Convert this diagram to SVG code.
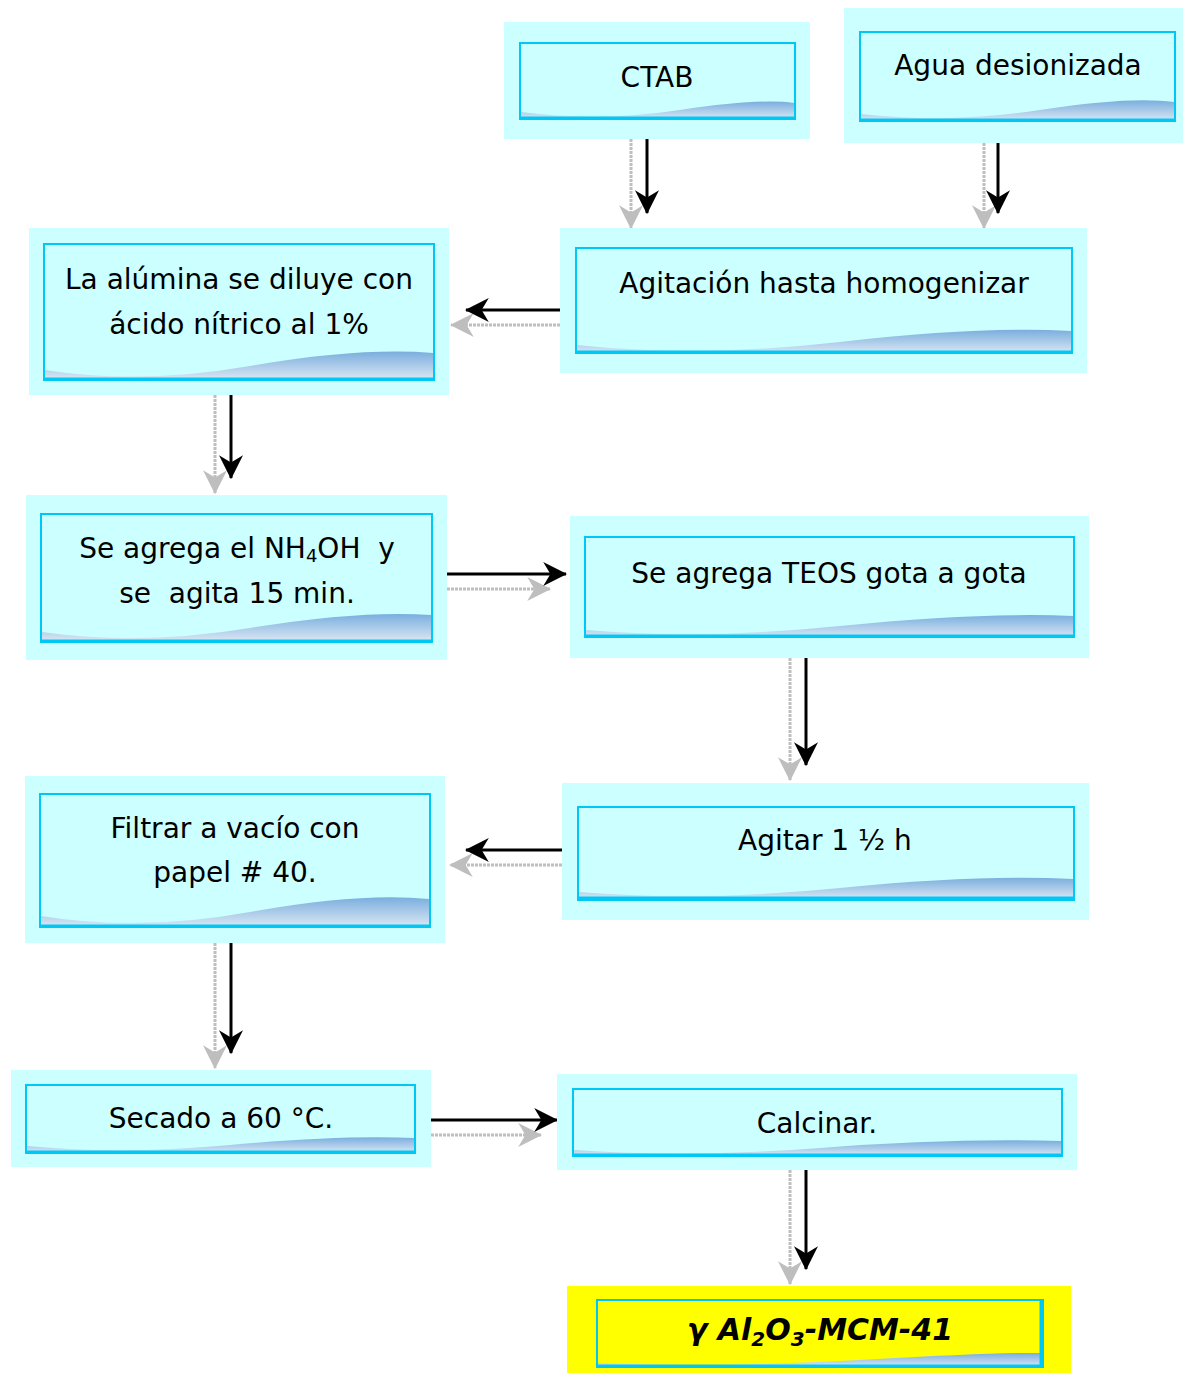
<svg xmlns="http://www.w3.org/2000/svg" width="1183" height="1374" viewBox="0 0 1183 1374">
<defs>
<linearGradient id="wg" x1="0" y1="0" x2="0" y2="1">
<stop offset="0" stop-color="#7AAEDE"/>
<stop offset="1" stop-color="#D6E4F2"/>
</linearGradient>
<marker id="hb" viewBox="0 0 20 20" refX="19" refY="10" markerWidth="24" markerHeight="24" markerUnits="userSpaceOnUse" orient="auto">
<path d="M0,0 L20,10 L0,20 L6,10 Z" fill="#000"/>
</marker>
<marker id="hg" viewBox="0 0 20 20" refX="19" refY="10" markerWidth="24" markerHeight="24" markerUnits="userSpaceOnUse" orient="auto">
<path d="M0,0 L20,10 L0,20 L6,10 Z" fill="#BEBEBE"/>
</marker>
</defs>
<style>
.outer{fill:#CCFFFF}
.outerY{fill:#FFFF00}
.inner{fill:#CCFFFF;stroke:#00C8F5;stroke-width:2}
.innerY{fill:#FFFF00;stroke:#00C8F5;stroke-width:2}
.bot{stroke:#00C8F5;stroke-width:3}
.wave{fill:url(#wg)}
.t{font-family:"DejaVu Sans","Liberation Sans",sans-serif;font-size:28px;fill:#000;text-anchor:middle;white-space:pre}
.tf{font-family:"DejaVu Sans","Liberation Sans",sans-serif;font-size:30px;font-weight:bold;font-style:italic;fill:#000;text-anchor:middle}
.ab{stroke:#000;stroke-width:3;fill:none;marker-end:url(#hb)}
.ag{stroke:#BEBEBE;stroke-width:3;fill:none;stroke-dasharray:3 1;marker-end:url(#hg)}
</style>

<g id="connectors">
<line class="ag" x1="631" y1="139" x2="631" y2="228"/>
<line class="ab" x1="647" y1="139" x2="647" y2="213"/>
<line class="ag" x1="984" y1="143" x2="984" y2="228"/>
<line class="ab" x1="998" y1="143" x2="998" y2="213"/>
<line class="ag" x1="560" y1="325" x2="451" y2="325"/>
<line class="ab" x1="560" y1="310" x2="466" y2="310"/>
<line class="ag" x1="215" y1="395" x2="215" y2="493"/>
<line class="ab" x1="231" y1="395" x2="231" y2="478"/>
<line class="ag" x1="447" y1="589" x2="550" y2="589"/>
<line class="ab" x1="447" y1="574" x2="566" y2="574"/>
<line class="ag" x1="790" y1="658" x2="790" y2="780"/>
<line class="ab" x1="806" y1="658" x2="806" y2="765"/>
<line class="ag" x1="562" y1="865" x2="450" y2="865"/>
<line class="ab" x1="562" y1="850" x2="466" y2="850"/>
<line class="ag" x1="215" y1="943" x2="215" y2="1068"/>
<line class="ab" x1="231" y1="943" x2="231" y2="1053"/>
<line class="ag" x1="431" y1="1135" x2="541" y2="1135"/>
<line class="ab" x1="431" y1="1120" x2="557" y2="1120"/>
<line class="ag" x1="790" y1="1170" x2="790" y2="1284"/>
<line class="ab" x1="806" y1="1170" x2="806" y2="1269"/>
</g>

<g id="n-ctab">
<rect class="outer" x="504" y="22" width="306" height="117"/>
<rect class="inner" x="520" y="43" width="275" height="76"/>
<path class="wave" d="M521,112 Q600,122 680,110 T794,103 L794,118 L521,118 Z"/>
<line class="bot" x1="520" y1="118" x2="795" y2="118"/>
<text class="t" x="657" y="87">CTAB</text>
</g>

<g id="n-agua">
<rect class="outer" x="844" y="8" width="339" height="135"/>
<rect class="inner" x="860" y="32" width="315" height="89"/>
<path class="wave" d="M861,114 Q950,124 1040,110 T1174,102 L1174,120 L861,120 Z"/>
<line class="bot" x1="860" y1="120" x2="1175" y2="120"/>
<text class="t" x="1018" y="75">Agua desionizada</text>
</g>

<g id="n-agitacion">
<rect class="outer" x="560" y="228" width="527" height="145"/>
<rect class="inner" x="576" y="248" width="496" height="105"/>
<path class="wave" d="M577,345 Q700,358 840,342 T1071,331 L1071,352 L577,352 Z"/>
<line class="bot" x1="576" y1="352" x2="1072" y2="352"/>
<text class="t" x="824" y="293">Agitación hasta homogenizar</text>
</g>

<g id="n-alumina">
<rect class="outer" x="29" y="228" width="420" height="167"/>
<rect class="inner" x="44" y="244" width="390" height="136"/>
<path class="wave" d="M45,370 Q140,385 250,366 T433,353 L433,378 L45,378 Z"/>
<line class="bot" x1="44" y1="379" x2="434" y2="379"/>
<text class="t" x="239" y="289">La alúmina se diluye con</text>
<text class="t" x="239" y="334">ácido nítrico al 1%</text>
</g>

<g id="n-nh4oh">
<rect class="outer" x="26" y="495" width="421" height="165"/>
<rect class="inner" x="41" y="514" width="391" height="128"/>
<path class="wave" d="M42,632 Q140,646 250,628 T431,615 L431,640 L42,640 Z"/>
<line class="bot" x1="41" y1="641" x2="432" y2="641"/>
<text class="t" x="237" y="558">Se agrega el NH<tspan font-size="18" dy="4">4</tspan><tspan dy="-4">OH  y</tspan></text>
<text class="t" x="237" y="603">se  agita 15 min.</text>
</g>

<g id="n-teos">
<rect class="outer" x="570" y="516" width="519" height="142"/>
<rect class="inner" x="585" y="537" width="489" height="100"/>
<path class="wave" d="M586,630 Q700,640 840,626 T1073,616 L1073,636 L586,636 Z"/>
<line class="bot" x1="585" y1="636" x2="1074" y2="636"/>
<text class="t" x="829" y="583">Se agrega TEOS gota a gota</text>
</g>

<g id="n-agitar">
<rect class="outer" x="562" y="783" width="527" height="137"/>
<rect class="inner" x="578" y="807" width="496" height="93"/>
<path class="wave" d="M579,892 Q700,902 840,888 T1073,879 L1073,898 L579,898 Z"/>
<line class="bot" x1="578" y1="898" x2="1074" y2="898"/>
<text class="t" x="825" y="850">Agitar 1 ½ h</text>
</g>

<g id="n-filtrar">
<rect class="outer" x="25" y="776" width="420" height="167"/>
<rect class="inner" x="40" y="794" width="390" height="133"/>
<path class="wave" d="M41,916 Q140,932 250,912 T429,899 L429,925 L41,925 Z"/>
<line class="bot" x1="40" y1="926" x2="430" y2="926"/>
<text class="t" x="235" y="838">Filtrar a vacío con</text>
<text class="t" x="235" y="882">papel # 40.</text>
</g>

<g id="n-secado">
<rect class="outer" x="11" y="1070" width="420" height="97"/>
<rect class="inner" x="26" y="1085" width="389" height="68"/>
<path class="wave" d="M27,1146 Q120,1155 230,1145 T414,1138 L414,1152 L27,1152 Z"/>
<line class="bot" x1="26" y1="1152" x2="415" y2="1152"/>
<text class="t" x="221" y="1128">Secado a 60 °C.</text>
</g>

<g id="n-calcinar">
<rect class="outer" x="557" y="1074" width="520" height="96"/>
<rect class="inner" x="573" y="1089" width="489" height="67"/>
<path class="wave" d="M574,1150 Q690,1158 820,1148 T1061,1141 L1061,1155 L574,1155 Z"/>
<line class="bot" x1="573" y1="1155" x2="1062" y2="1155"/>
<text class="t" x="817" y="1133">Calcinar.</text>
</g>

<g id="n-final">
<rect class="outerY" x="567" y="1286" width="504" height="87"/>
<rect class="innerY" x="597" y="1300" width="446" height="67"/>
<path class="wave" d="M598,1363 Q720,1368 860,1360 T1042,1353 L1042,1366 L598,1366 Z"/>
<line class="bot" x1="597" y1="1366" x2="1043" y2="1366"/>
<line class="bot" x1="1041" y1="1300" x2="1041" y2="1367"/>
<text class="tf" x="820" y="1340">γ Al<tspan font-size="20" dy="6">2</tspan><tspan dy="-6">O</tspan><tspan font-size="20" dy="6">3</tspan><tspan dy="-6">-MCM-41</tspan></text>
</g>
</svg>
